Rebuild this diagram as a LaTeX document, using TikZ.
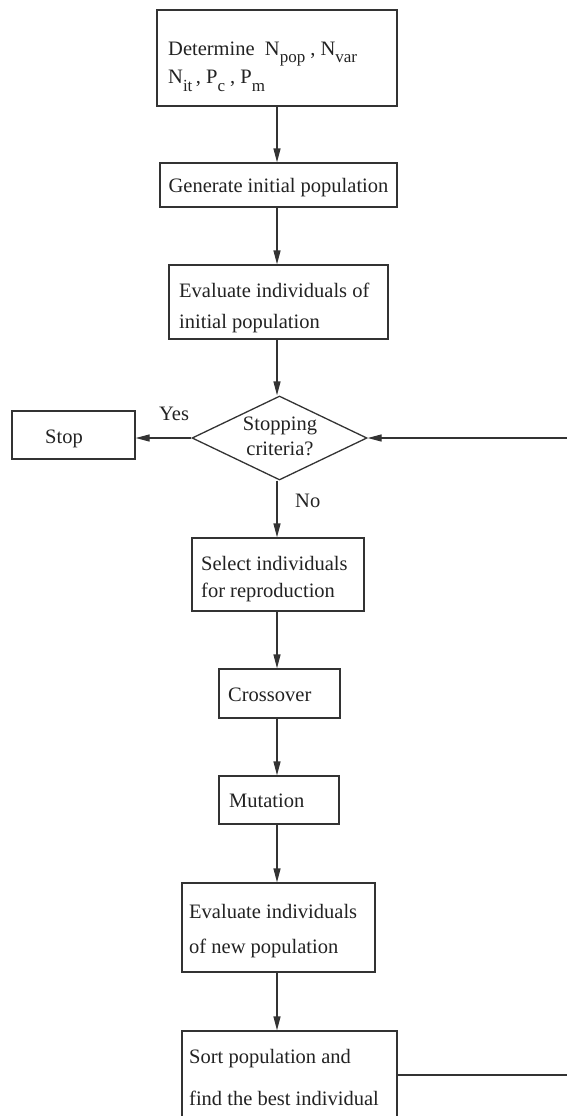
\documentclass[tikz,border=0pt]{standalone}
\usepackage{fontspec}
\setmainfont{Liberation Serif}
\usetikzlibrary{shapes.geometric,arrows.meta}
\definecolor{lc}{HTML}{333333}
\definecolor{tc}{HTML}{222222}
\newcommand\mysb[1]{\raisebox{-7pt}{\fontsize{17}{19}\selectfont #1}}
\begin{document}
\begin{tikzpicture}[x=1pt,y=-1pt,
  box/.style={draw=lc, line width=1.3pt, inner sep=0pt, fill=none},
  txt/.style={anchor=base west, inner sep=0pt, text=tc, font=\fontsize{20.5}{24}\selectfont},
  ctxt/.style={anchor=base, inner sep=0pt, text=tc, font=\fontsize{20.5}{24}\selectfont},
  arr/.style={draw=lc, line width=1.3pt, -{Triangle[length=14pt,width=7pt]}},
  ln/.style={draw=lc, line width=1.3pt}]
\useasboundingbox (0,0) rectangle (566,1116);
% boxes
\node[box, minimum width=240pt, minimum height=96pt] (det) at (277,58) {};
\node[box, minimum width=237pt, minimum height=44pt] (gen) at (278.5,185) {};
\node[box, minimum width=219pt, minimum height=74pt] (ev1) at (278.5,302) {};
\node[box, shape=diamond, minimum width=175pt, minimum height=84pt] (dia) at (279.5,438) {};
\node[box, minimum width=123pt, minimum height=48pt] (stop) at (73.5,435) {};
\node[box, minimum width=172pt, minimum height=73pt] (sel) at (278,574.5) {};
\node[box, minimum width=121pt, minimum height=49pt] (cross) at (279.5,693.5) {};
\node[box, minimum width=120pt, minimum height=48pt] (mut) at (279,800) {};
\node[box, minimum width=193pt, minimum height=89pt] (ev2) at (278.5,927.5) {};
\node[box, minimum width=215pt, minimum height=94pt] (sort) at (289.5,1078) {};
% texts
\node[txt] (t1a) at (168,56) {Determine\ \ N\mysb{pop}\ , N\mysb{var}};
\node[txt] (t1b) at (168,84) {N\mysb{it}\,, P\mysb{c}\ , P\mysb{m}};
\node[ctxt] (t2) at (278.5,192) {Generate initial population};
\node[txt] (t3a) at (179,297) {Evaluate individuals of};
\node[txt] (t3b) at (179,328) {initial population};
\node[ctxt] (t4a) at (280,430) {Stopping};
\node[ctxt] (t4b) at (280,455) {criteria?};
\node[txt] (t5) at (45,443) {Stop};
\node[txt] (yes) at (159,420) {Yes};
\node[txt] (no) at (295,507) {No};
\node[txt] (t6a) at (201,570) {Select individuals};
\node[txt] (t6b) at (201,597) {for reproduction};
\node[txt] (t7) at (228,701) {Crossover};
\node[txt] (t8) at (229,807) {Mutation};
\node[txt] (t9a) at (189,918) {Evaluate individuals};
\node[txt] (t9b) at (189,953) {of new population};
\node[txt] (t10a) at (189,1063) {Sort population and};
\node[txt] (t10b) at (189,1105) {find the best individual};
% connectors
\coordinate (r1) at (567.5,1075);
\coordinate (r2) at (567.5,438);
\draw[arr] (det.south) -- (det.south |- gen.north);
\draw[arr] (det.south |- gen.south) -- (det.south |- ev1.north);
\draw[arr] (det.south |- ev1.south) -- (det.south |- dia.north);
\draw[arr] (dia.west) -- (stop.east |- dia.west);
\draw[arr] (dia.south -| det.south) -- (det.south |- sel.north);
\draw[arr] (det.south |- sel.south) -- (det.south |- cross.north);
\draw[arr] (det.south |- cross.south) -- (det.south |- mut.north);
\draw[arr] (det.south |- mut.south) -- (det.south |- ev2.north);
\draw[arr] (det.south |- ev2.south) -- (det.south |- sort.north);
\draw[arr] (sort.east |- r1) -- (r1) -- (r2) -- (dia.east);
\end{tikzpicture}
\end{document}
